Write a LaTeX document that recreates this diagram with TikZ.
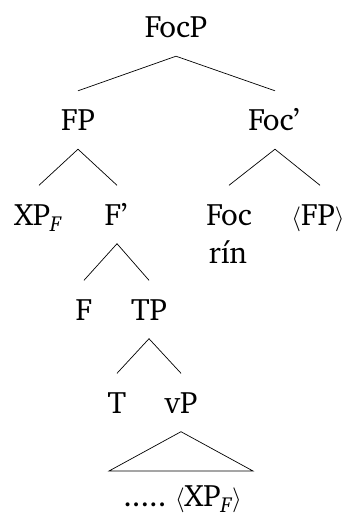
\documentclass[tikz,border=0pt]{standalone}
\usepackage[T1]{fontenc}
\usepackage{charter}
\tikzset{
  tn/.style={anchor=base, inner xsep=0pt, inner ysep=18.5pt, text height=21pt, text depth=0pt,
             font=\fontsize{31}{37}\selectfont},
  br/.style={line width=0.7pt}
}
\begin{document}
\begin{tikzpicture}[x=1pt,y=-1pt]
\useasboundingbox (0,0) rectangle (348,514);
\node[tn] (FocP) at (176,37.5) {FocP};
\node[tn] (FP) at (78,130.5) {FP};
\node[tn] (Focb) at (274,130.5) {Foc'};
\node[tn] (XP) at (38,225) {XP\textsubscript{\itshape F}};
\node[tn] (Fb) at (116,225) {F'};
\node[tn] (Foc) at (229,225) {Foc};
\node[tn] (rin) at (228,263) {rín};
\node[tn] (FPt) at (318,225) {$\langle$FP$\rangle$};
\node[tn] (F) at (84,320) {F};
\node[tn] (TP) at (149,320) {TP};
\node[tn] (T) at (117,413) {T};
\node[tn] (vP) at (181,413) {vP};
\node[tn] (bot) at (180,506) {\,.....\ $\langle$XP\textsubscript{\itshape F}$\rangle$};
\coordinate (tl) at (109,471);
\coordinate (tr) at (253,471);
\draw[br] (FocP.south) -- (FP.north);
\draw[br] (FocP.south) -- (Focb.north -| 275,0);
\draw[br] (FP.south) -- (XP.north -| 39,0);
\draw[br] (FP.south) -- (Fb.north -| 117,0);
\draw[br] (Focb.south -| 275,0) -- (Foc.north);
\draw[br] (Focb.south -| 275,0) -- (FPt.north -| 320,0);
\draw[br] (Fb.south -| 117,0) -- (F.north);
\draw[br] (Fb.south -| 117,0) -- (TP.north);
\draw[br] (TP.south) -- (T.north);
\draw[br] (TP.south) -- (vP.north);
\draw[br] (vP.south) -- (tl) -- (tr) -- cycle;
\end{tikzpicture}
\end{document}
